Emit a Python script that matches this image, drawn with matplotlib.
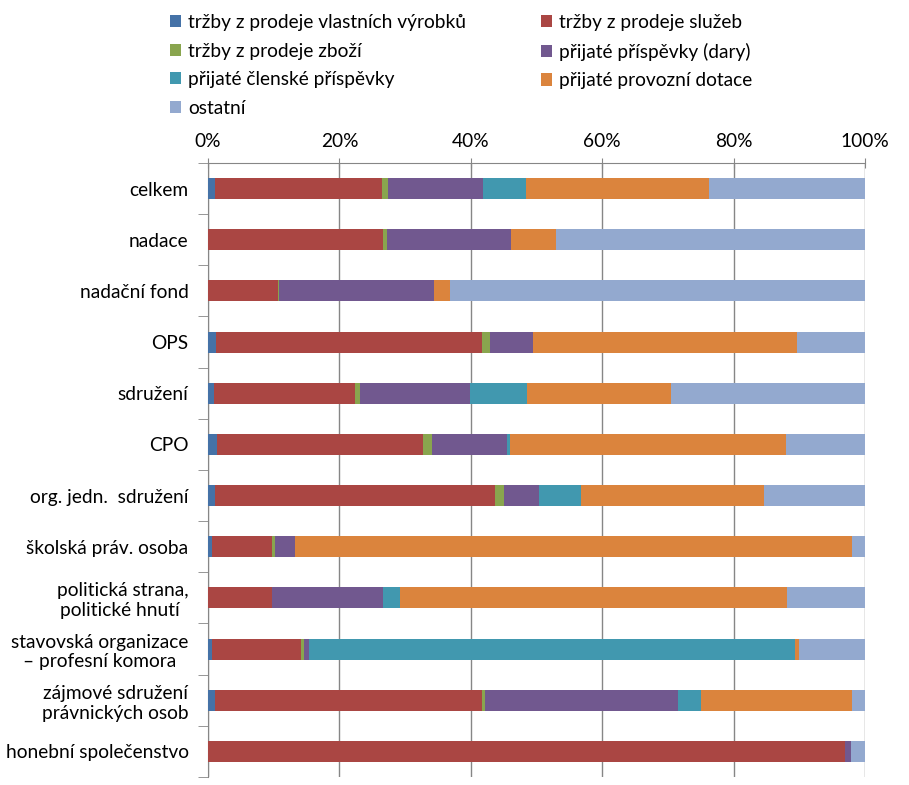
import numpy as np
import matplotlib.pyplot as plt
from matplotlib.ticker import PercentFormatter

plt.rcParams['font.family'] = ['Lato', 'DejaVu Sans']

categories = [
    "celkem",
    "nadace",
    "nadační fond",
    "OPS",
    "sdružení",
    "CPO",
    "org. jedn.  sdružení",
    "školská práv. osoba",
    "politická strana,\npolitické hnutí ",
    "stavovská organizace\n– profesní komora",
    "zájmové sdružení\nprávnických osob",
    "honební společenstvo",
]

series_names = [
    "tržby z prodeje vlastních výrobků",
    "tržby z prodeje služeb",
    "tržby z prodeje zboží",
    "přijaté příspěvky (dary)",
    "přijaté členské příspěvky",
    "přijaté provozní dotace",
    "ostatní",
]

# shares in % per category (same order as categories)
vlastni_vyrobky = [1.0, 0.0, 0.0, 1.2, 0.9, 1.4, 1.1, 0.6, 0.0, 0.6, 1.1, 0.0]
sluzby = [25.5, 26.6, 10.6, 40.5, 21.5, 31.3, 42.6, 9.1, 9.7, 13.6, 40.6, 96.9]
zbozi = [0.9, 0.7, 0.2, 1.2, 0.7, 1.4, 1.4, 0.5, 0.0, 0.4, 0.5, 0.0]
dary = [14.5, 18.8, 23.6, 6.6, 16.8, 11.4, 5.3, 3.0, 16.9, 0.8, 29.4, 0.9]
clenske = [6.5, 0.0, 0.0, 0.0, 8.7, 0.5, 6.3, 0.0, 2.6, 74.0, 3.5, 0.0]
dotace = [27.8, 6.9, 2.4, 40.2, 21.9, 42.0, 27.9, 84.8, 58.9, 0.6, 22.9, 0.0]
ostatni = [23.8, 47.0, 63.2, 10.3, 29.5, 12.0, 15.4, 2.0, 11.9, 10.0, 2.0, 2.2]

colors = ["#4572A7", "#AA4643", "#89A54E", "#71588F", "#4198AF", "#DB843D", "#93A9CF"]

data = np.array([vlastni_vyrobky, sluzby, zbozi, dary, clenske, dotace, ostatni])
data = data / data.sum(axis=0) * 100

fig = plt.figure(figsize=(9.09, 7.85), dpi=100)
ax = fig.add_axes([0.2288, 0.0102, 0.7228, 0.7822])

y = np.arange(len(categories))
left = np.zeros(len(categories))
handles = []
for vals, name, c in zip(data, series_names, colors):
    h = ax.barh(y, vals, left=left, height=0.41, color=c, label=name, zorder=3)
    handles.append(h)
    left += vals

ax.set_ylim(len(categories) - 0.5, -0.5)
ax.set_xlim(0, 100)
ax.xaxis.tick_top()
ax.set_xticks([0, 20, 40, 60, 80, 100])
ax.xaxis.set_major_formatter(PercentFormatter(decimals=0))
ax.tick_params(axis='x', direction='inout', length=7, color='#868686',
               labelsize=13.8, pad=6)
ax.grid(axis='x', color='#868686', linewidth=1.0, zorder=0)

ax.set_yticks(y)
ax.set_yticklabels(categories, fontsize=13.8)
for lab in ax.get_yticklabels():
    lab.set_multialignment('center')
ax.tick_params(axis='y', length=0, pad=14)
ax.set_yticks(np.arange(len(categories) + 1) - 0.5, minor=True)
ax.tick_params(axis='y', which='minor', length=7, color='#868686')

for s in ['right', 'bottom']:
    ax.spines[s].set_visible(False)
for s in ['left', 'top']:
    ax.spines[s].set_color('#868686')

# legend in two columns, row-wise order
order = [0, 2, 4, 6, 1, 3, 5]
fig.legend([handles[i] for i in order], [series_names[i] for i in order],
           ncol=2, loc='upper left', bbox_to_anchor=(0.168, 1.004),
           frameon=False, fontsize=13.8, handlelength=0.6, handleheight=0.6,
           handletextpad=0.35, columnspacing=3.9, labelspacing=0.6)

fig.savefig("out.png", dpi=100)
